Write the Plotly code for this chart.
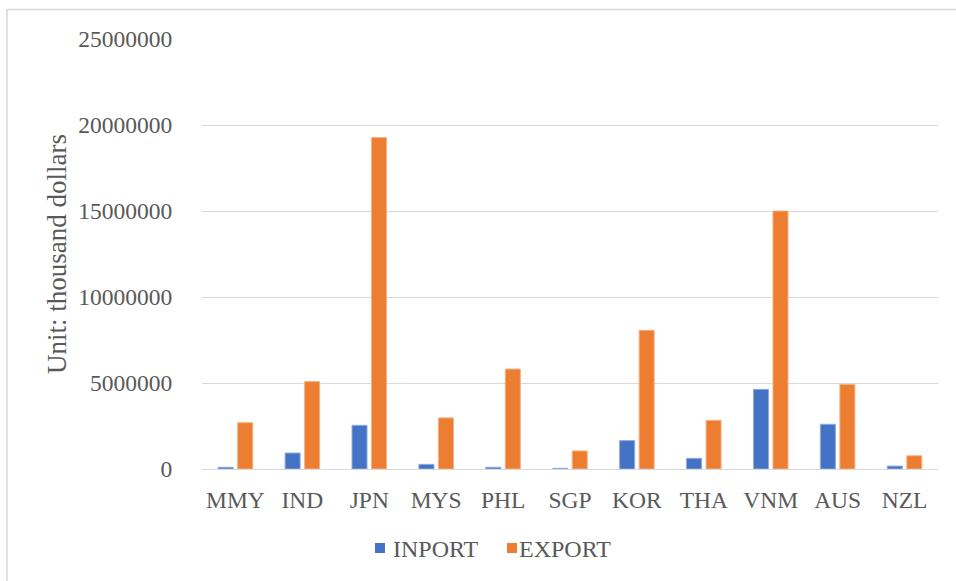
import plotly.graph_objects as go

countries = ["MMY", "IND", "JPN", "MYS", "PHL", "SGP", "KOR", "THA", "VNM", "AUS", "NZL"]
inport = [100000, 930000, 2540000, 270000, 100000, 40000, 1650000, 620000, 4630000, 2600000, 170000]
export = [2690000, 5080000, 19270000, 2970000, 5810000, 1050000, 8060000, 2830000, 15000000, 4920000, 770000]

y_ticks = [0, 5000000, 10000000, 15000000, 20000000, 25000000]

FONT = "Liberation Serif, Times New Roman, serif"
TEXT = "#595959"
GRID = "#D9D9D9"
BLUE = "#4472C4"
ORANGE = "#ED7D31"

# plot area in pixels, used to place the frame and legend in paper units
L, R, T, B = 202, 938, 39, 469
W, H = R - L, B - T


def px(x):
    return (x - L) / W


def py(y):
    return (B - y) / H


fig = go.Figure()
fig.add_trace(go.Bar(
    name="INPORT", x=countries, y=inport,
    marker=dict(color=BLUE, line=dict(color="#8FAADC", width=1)),
))
fig.add_trace(go.Bar(
    name="EXPORT", x=countries, y=export,
    marker=dict(color=ORANGE, line=dict(color="#F4B183", width=1)),
))

# legend drawn as small squares with labels underneath the chart
legend_items = [("INPORT", BLUE, 375, 391), ("EXPORT", ORANGE, 507, 517)]
shapes = [dict(
    type="rect", xref="paper", yref="paper",
    x0=px(7), x1=px(990), y0=py(620), y1=py(9.5),
    line=dict(color=GRID, width=1.5), fillcolor="rgba(0,0,0,0)", layer="below",
)]
annotations = []
for label, color, sx, tx in legend_items:
    shapes.append(dict(
        type="rect", xref="paper", yref="paper",
        x0=px(sx), x1=px(sx + 10), y0=py(553), y1=py(543),
        line=dict(width=0), fillcolor=color,
    ))
    annotations.append(dict(
        text=label, xref="paper", yref="paper", x=px(tx), y=py(548.5),
        xanchor="left", yanchor="middle", showarrow=False,
        font=dict(family=FONT, size=24, color=TEXT),
    ))

fig.update_layout(
    width=956, height=581,
    margin=dict(l=L, r=956 - R, t=T, b=581 - B),
    paper_bgcolor="white", plot_bgcolor="white",
    barmode="group", bargap=0.417, bargroupgap=0.23,
    font=dict(family=FONT, size=23, color=TEXT),
    showlegend=False,
    xaxis=dict(
        showgrid=False, showline=True, linecolor=GRID, linewidth=1,
        ticks="outside", ticklen=10, tickcolor="rgba(0,0,0,0)",
        tickfont=dict(family=FONT, size=23.5, color=TEXT),
    ),
    yaxis=dict(
        range=[0, 25000000], tickvals=y_ticks,
        ticktext=[str(v) for v in y_ticks],
        showgrid=True, gridcolor=GRID, gridwidth=1,
        zeroline=True, zerolinecolor=GRID, zerolinewidth=1,
        ticks="outside", ticklen=24, tickcolor="rgba(0,0,0,0)",
        tickfont=dict(family=FONT, size=23.5, color=TEXT),
        title=dict(text="Unit: thousand dollars", standoff=3,
                   font=dict(family=FONT, size=27, color=TEXT)),
    ),
    shapes=shapes,
    annotations=annotations,
)

fig.write_html("out.html")
